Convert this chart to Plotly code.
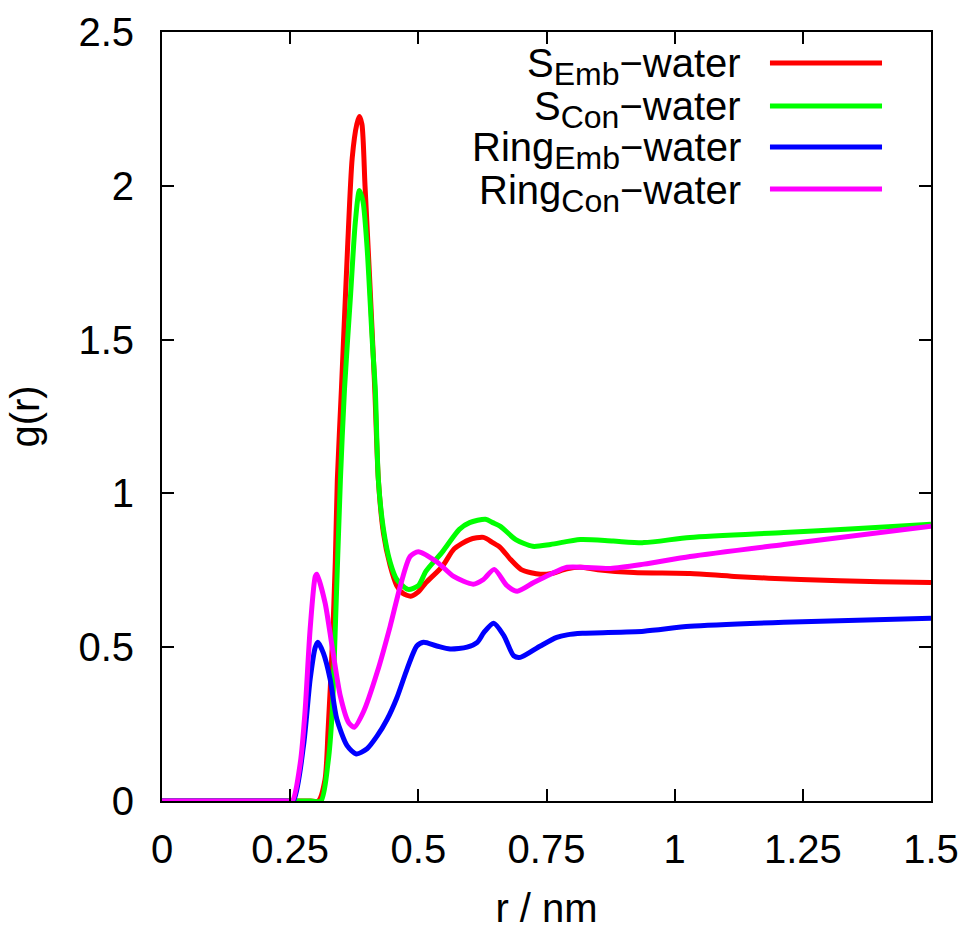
import plotly.graph_objects as go

# ---- data (r in nm, g(r)) ----
r_s_emb = [0, 0.25, 0.29, 0.305, 0.318, 0.324, 0.332, 0.338, 0.342, 0.35, 0.362, 0.371, 0.38, 0.385, 0.39,
           0.396, 0.405, 0.415, 0.422, 0.432, 0.445, 0.458, 0.47, 0.485, 0.5, 0.515, 0.547, 0.57, 0.6, 0.627,
           0.645, 0.66, 0.68, 0.70, 0.72, 0.738, 0.76, 0.79, 0.816, 0.85, 0.92, 1.03, 1.116, 1.246, 1.4, 1.5]
g_s_emb = [0, 0, 0, 0.0, 0.07, 0.23, 0.50, 0.776, 1.045, 1.34, 1.8, 2.09, 2.2, 2.225, 2.2,
           2.0, 1.7, 1.34, 1.045, 0.87, 0.765, 0.70, 0.675, 0.666, 0.68, 0.71, 0.763, 0.82, 0.85, 0.857,
           0.84, 0.824, 0.785, 0.753, 0.742, 0.737, 0.74, 0.755, 0.76, 0.752, 0.743, 0.74, 0.73, 0.72, 0.713, 0.71]

r_s_con = [0, 0.29, 0.31, 0.324, 0.332, 0.338, 0.348, 0.356, 0.368, 0.377, 0.385, 0.392, 0.40, 0.41, 0.416,
           0.422, 0.432, 0.445, 0.458, 0.48, 0.5, 0.515, 0.547, 0.58, 0.6, 0.631, 0.645, 0.66, 0.69, 0.723,
           0.758, 0.816, 0.88, 0.94, 1.03, 1.213, 1.35, 1.5]
g_s_con = [0, 0, 0.0, 0.127, 0.29, 0.56, 1.045, 1.34, 1.65, 1.88, 1.985, 1.95, 1.8, 1.5, 1.34,
           1.045, 0.883, 0.776, 0.72, 0.688, 0.70, 0.747, 0.81, 0.883, 0.905, 0.916, 0.905, 0.893, 0.85, 0.828,
           0.834, 0.85, 0.845, 0.84, 0.857, 0.873, 0.885, 0.90]

r_ring_emb = [0, 0.24, 0.256, 0.276, 0.289, 0.299, 0.304, 0.315, 0.328, 0.341, 0.361, 0.379, 0.40, 0.419,
              0.439, 0.458, 0.478, 0.497, 0.51, 0.536, 0.562, 0.595, 0.615, 0.628, 0.647, 0.667, 0.686, 0.699,
              0.738, 0.77, 0.79, 0.82, 0.94, 1.03, 1.213, 1.5]
g_ring_emb = [0, 0, 0.0, 0.18, 0.396, 0.50, 0.516, 0.48, 0.396, 0.266, 0.18, 0.153, 0.17, 0.21,
              0.265, 0.335, 0.429, 0.504, 0.516, 0.504, 0.494, 0.50, 0.516, 0.548, 0.578, 0.537, 0.472, 0.467,
              0.504, 0.532, 0.54, 0.545, 0.552, 0.568, 0.581, 0.594]

r_ring_con = [0, 0.24, 0.254, 0.27, 0.279, 0.289, 0.299, 0.302, 0.318, 0.332, 0.348, 0.364, 0.375, 0.393,
              0.42, 0.445, 0.465, 0.484, 0.5, 0.537, 0.569, 0.607, 0.627, 0.648, 0.673, 0.693, 0.725, 0.758,
              0.79, 0.875, 0.94, 1.03, 1.213, 1.5]
g_ring_con = [0, 0, 0.0, 0.127, 0.29, 0.56, 0.73, 0.737, 0.645, 0.50, 0.34, 0.255, 0.24, 0.29,
              0.42, 0.568, 0.70, 0.795, 0.81, 0.776, 0.73, 0.705, 0.72, 0.753, 0.70, 0.682, 0.71, 0.737,
              0.76, 0.756, 0.77, 0.795, 0.834, 0.893]

sub_style = '<span style="font-size:32px">{}</span>'
names = ["S<sub>" + sub_style.format("Emb") + "</sub>\u2212water",
         "S<sub>" + sub_style.format("Con") + "</sub>\u2212water",
         "Ring<sub>" + sub_style.format("Emb") + "</sub>\u2212water",
         "Ring<sub>" + sub_style.format("Con") + "</sub>\u2212water"]
colors = ["#ff0000", "#00ff00", "#0000ff", "#ff00ff"]
series = [(r_s_emb, g_s_emb), (r_s_con, g_s_con), (r_ring_emb, g_ring_emb), (r_ring_con, g_ring_con)]

x_ticks = [0, 0.25, 0.5, 0.75, 1, 1.25, 1.5]
x_ticktext = ["0", "0.25", "0.5", "0.75", "1", "1.25", "1.5"]
y_ticks = [0, 0.5, 1, 1.5, 2, 2.5]
y_ticktext = ["0", "0.5", "1", "1.5", "2", "2.5"]

FONT = "Liberation Sans, Arial, sans-serif"
FS = 40

fig = go.Figure()
for (rx, gy), nm, c in zip(series, names, colors):
    fig.add_trace(go.Scatter(x=rx, y=gy, mode="lines", name=nm,
                             line=dict(color=c, width=5, shape="spline", smoothing=0.7),
                             showlegend=False))

# legend built manually (text on the left, sample line on the right)
leg_y = [0.9597, 0.9038, 0.8505, 0.7958]
for nm, c, yy in zip(names, colors, leg_y):
    fig.add_annotation(xref="paper", yref="paper", x=0.7555, y=yy, text=nm, showarrow=False,
                       xanchor="right", yanchor="middle", yshift=-4,
                       font=dict(family=FONT, size=FS, color="black"))
    fig.add_shape(type="line", xref="paper", yref="paper", x0=0.7906, x1=0.9363, y0=yy, y1=yy,
                  line=dict(color=c, width=5))

axis_common = dict(showline=True, linecolor="black", linewidth=2, mirror="ticks",
                   ticks="inside", ticklen=12, tickwidth=1.5, tickcolor="black",
                   showgrid=False, zeroline=False, automargin=False,
                   tickfont=dict(family=FONT, size=FS, color="black"))

fig.update_layout(
    width=972, height=931,
    margin=dict(l=162, r=41, t=32, b=130),
    plot_bgcolor="white", paper_bgcolor="white",
    xaxis=dict(range=[0, 1.5], tickvals=x_ticks, ticktext=x_ticktext,
               ticklabelstandoff=12,
               title=dict(text="r / nm", font=dict(family=FONT, size=FS, color="black"), standoff=24),
               **axis_common),
    yaxis=dict(range=[0, 2.5], tickvals=y_ticks, ticktext=y_ticktext,
               ticklabelstandoff=18,
               title=dict(text="g(r)", font=dict(family=FONT, size=FS, color="black"), standoff=26),
               **axis_common),
)

fig.write_html("out.html")
